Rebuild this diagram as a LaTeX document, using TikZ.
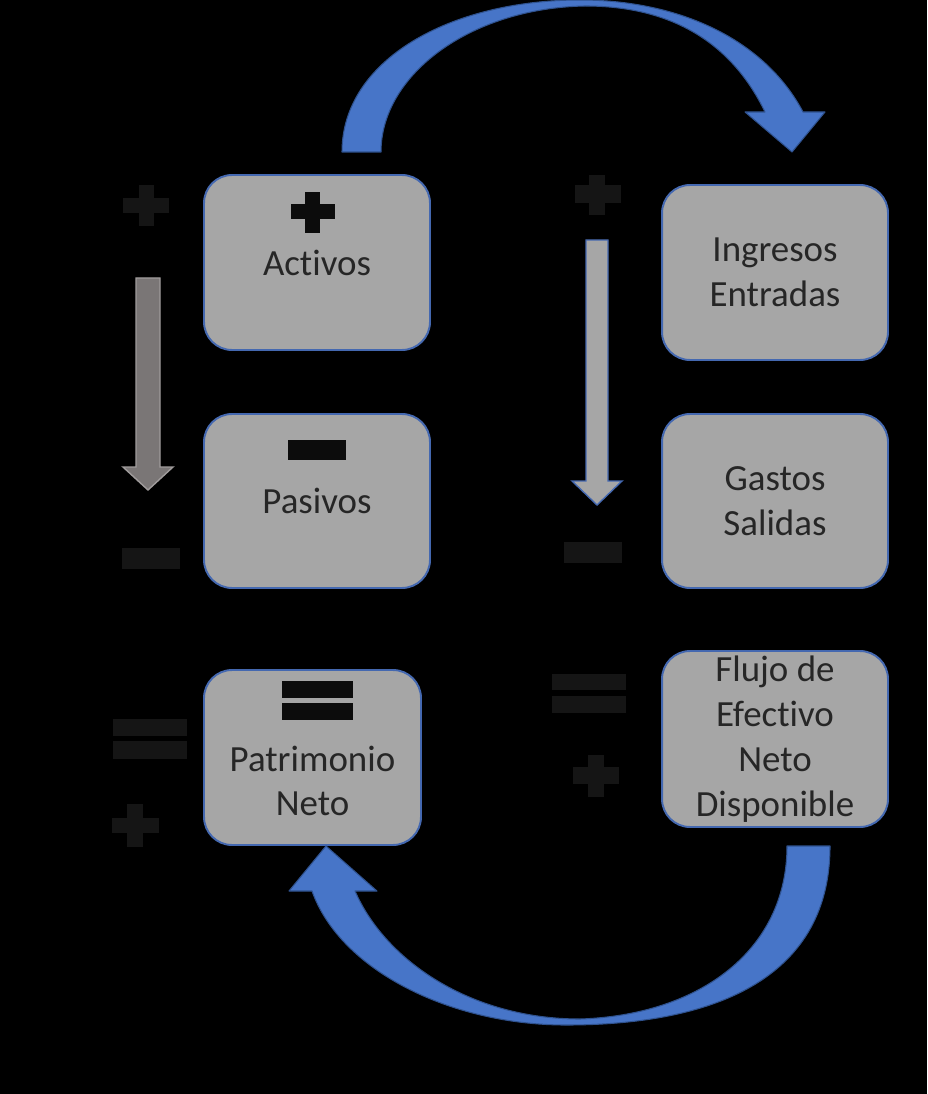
\documentclass[tikz,border=0pt]{standalone}
\usepackage{fontspec}
\setmainfont{Carlito}[Ligatures={NoCommon}]
\usepackage{tikz}

\definecolor{boxgray}{RGB}{166,166,166}
\definecolor{boxline}{RGB}{68,104,176}
\definecolor{txtgray}{RGB}{38,38,38}
\definecolor{arrblue}{RGB}{71,117,200}
\definecolor{arrline}{RGB}{47,82,143}
\definecolor{symdark}{RGB}{21,21,21}
\definecolor{symblack}{RGB}{12,12,12}
\definecolor{leftarr}{RGB}{122,118,118}
\definecolor{leftarrline}{RGB}{160,156,156}

\tikzset{
  box/.style={draw=boxline, line width=1.1pt, fill=boxgray, rounded corners=0.56cm,
    minimum width=4.52cm, minimum height=3.5cm, inner sep=0pt},
  lbl/.style={text=txtgray, align=center, font=\fontsize{21}{25.5}\selectfont},
  symin/.style={fill=symblack},
  symout/.style={fill=symdark},
  bigarrow/.style={fill=arrblue, draw=arrline, line width=0.6pt, line join=round}
}

\begin{document}
\begin{tikzpicture}[x=0.02cm, y=-0.02cm]
\fill[black] (0,0) rectangle (927,1094);
\useasboundingbox (0,0) rectangle (927,1094);

% boxes
\node[box, lbl] (act) at (317,262.5) {Activos};
\node[box, lbl, minimum height=3.48cm] (pas) at (317,501) {Pasivos};
\node[box, minimum width=4.34cm] (pat) at (312.5,757.5) {};
\node[lbl] (patT) at (312.5,781) {Patrimonio\\Neto};
\node[box, lbl] (ing) at (775,272.5) {Ingresos\\Entradas};
\node[box, lbl, minimum height=3.48cm] (gas) at (775,501) {Gastos\\Salidas};
\node[box, lbl, minimum height=3.52cm] (flu) at (775,739) {Flujo de\\Efectivo\\Neto\\Disponible};

% signs in the boxes
\fill[symin] (291,204) rectangle (335,219);
\fill[symin] (305,192) rectangle (320,233);
\fill[symin] (288,440) rectangle (346,460);
\fill[symin] (282,681) rectangle (353,698);
\fill[symin] (282,703) rectangle (353,720);

% signs on the left
\fill[symout] (123,198) rectangle (169,213);
\fill[symout] (139,185) rectangle (154,226);
\fill[symout] (122,548) rectangle (180,569);
\fill[symout] (113,719) rectangle (187,736);
\fill[symout] (113,741) rectangle (187,759);
\fill[symout] (112,818) rectangle (159,833);
\fill[symout] (127,804) rectangle (143,847);

% signs on the right
\fill[symout] (575,185) rectangle (621,203);
\fill[symout] (589,175) rectangle (605,215);
\fill[symout] (564,542) rectangle (622,563);
\fill[symout] (552,674) rectangle (626,690);
\fill[symout] (552,696) rectangle (626,713);
\fill[symout] (573,767) rectangle (619,784);
\fill[symout] (588,755) rectangle (604,797);

% down arrows
\draw[fill=leftarr, draw=leftarrline, line width=0.8pt]
  (136,278) -- (160,278) -- (160,467) -- (173,467) -- (148,490) -- (123,467) -- (136,467) -- cycle;
\draw[fill=boxgray, draw=boxline, line width=0.8pt]
  (586,240) -- (608,240) -- (608,481) -- (622,481) -- (597,505) -- (572,481) -- (586,481) -- cycle;

% curved arrow on top
\draw[bigarrow] (342,152) .. controls (342,60) and (450,0) .. (580,0)
  .. controls (680,0) and (765,40) .. (803,112)
  -- (825,112) -- (792,152) -- (745,112) -- (765,112)
  .. controls (735,50) and (680,6) .. (585,6)
  .. controls (470,8) and (381,75) .. (381,152) -- cycle;

% curved arrow at the bottom
\draw[bigarrow] (830,846) .. controls (830,975) and (720,1025) .. (566,1025)
  .. controls (450,1025) and (340,970) .. (312,891)
  -- (289,891) -- (326,846) -- (377,891) -- (355,891)
  .. controls (385,960) and (470,1019) .. (580,1019)
  .. controls (700,1015) and (787,950) .. (787,846) -- cycle;
\end{tikzpicture}
\end{document}
